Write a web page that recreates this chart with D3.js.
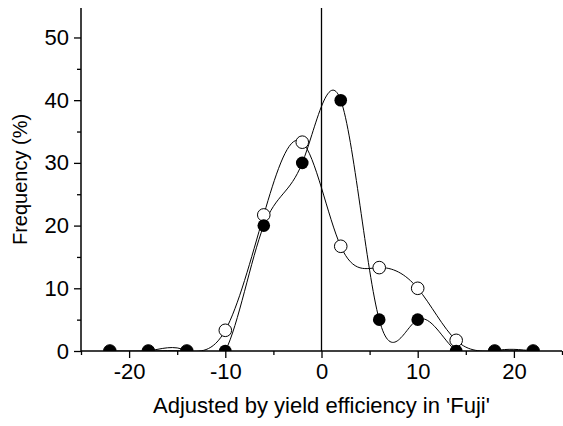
<!DOCTYPE html>
<html lang="en">
<head>
<meta charset="UTF-8">
<title>Frequency distribution</title>
<script src="https://cdn.jsdelivr.net/npm/d3@7"></script>
<style>
  body { margin: 0; background: #fff; }
  text { font-family: "Liberation Sans", Arial, sans-serif; fill: #000; }
</style>
</head>
<body>
<svg id="chart" width="563" height="426"></svg>
<script>
// data
const xVals      = [-22, -18, -14, -10, -6, -2, 2, 6, 10, 14, 18, 22];
const filledVals = [0, 0, 0, 0, 20, 30, 40, 5, 5, 0, 0, 0];
const openVals   = [0, 0, 0, 3.3, 21.7, 33.3, 16.7, 13.3, 10, 1.7, 0, 0];
const xTicks = [-20, -10, 0, 10, 20];
const yTicks = [0, 10, 20, 30, 40, 50];

const w = 563, h = 426;
const padL = 81, padR = 562, padT = 8, padB = 351;

const svg = d3.select("#chart");

const x = d3.scaleLinear().domain([-25, 25]).range([padL, padR]);
const y = d3.scaleLinear().domain([0, 54.7]).range([padB, padT]);

svg.append("defs").append("clipPath").attr("id", "plotclip")
  .append("rect")
    .attr("x", padL).attr("y", padT)
    .attr("width", padR - padL).attr("height", padB - padT);

// minor ticks
svg.append("g")
    .attr("transform", "translate(0," + padB + ")")
    .call(d3.axisBottom(x).tickValues(d3.range(-25, 26, 5).filter(d => d % 10 != 0)).tickSize(4).tickFormat(""))
    .call(g => g.select(".domain").remove())
    .selectAll("line").attr("stroke-width", 1.3);
svg.append("g")
    .attr("transform", "translate(" + padL + ",0)")
    .call(d3.axisLeft(y).tickValues([5, 15, 25, 35, 45]).tickSize(4).tickFormat(""))
    .call(g => g.select(".domain").remove())
    .selectAll("line").attr("stroke-width", 1.3);

// major axes
const xAxis = svg.append("g")
    .attr("transform", "translate(0," + padB + ")")
    .call(d3.axisBottom(x).tickValues(xTicks).tickSize(7).tickPadding(5).tickSizeOuter(0).tickFormat(d => String(d)));
const yAxis = svg.append("g")
    .attr("transform", "translate(" + padL + ",0)")
    .call(d3.axisLeft(y).tickValues(yTicks).tickSize(7).tickPadding(5).tickSizeOuter(0).tickFormat(d => String(d)));

[xAxis, yAxis].forEach(g => {
  g.select(".domain").attr("stroke-width", 1.5);
  g.selectAll(".tick line").attr("stroke-width", 1.3);
  g.selectAll(".tick text")
    .style("font-size", "22px")
    .style("font-family", "'Liberation Sans', Arial, sans-serif")
    .attr("fill", "#000");
});
xAxis.select(".domain").attr("d", "M" + padL + ",0H" + padR);
yAxis.select(".domain").attr("d", "M0," + padT + "V" + padB);

// zero line
svg.append("line")
    .attr("x1", x(0)).attr("x2", x(0))
    .attr("y1", padT).attr("y2", padB)
    .attr("stroke", "#000").attr("stroke-width", 1.3);

const line = d3.line()
    .curve(d3.curveNatural)
    .x(d => x(d[0]))
    .y(d => y(d[1]));

const openPts = xVals.map((v, i) => [v, openVals[i]]);
const filledPts = xVals.map((v, i) => [v, filledVals[i]]);

const plot = svg.append("g").attr("clip-path", "url(#plotclip)");

plot.append("path").datum(openPts)
    .attr("d", line).attr("fill", "none").attr("stroke", "#000").attr("stroke-width", 1);
plot.append("path").datum(filledPts)
    .attr("d", line).attr("fill", "none").attr("stroke", "#000").attr("stroke-width", 1);

plot.append("g").selectAll("circle")
    .data(openPts)
    .enter().append("circle")
    .attr("cx", d => x(d[0])).attr("cy", d => y(d[1]))
    .attr("r", 6.3).attr("fill", "#fff").attr("stroke", "#000").attr("stroke-width", 1);

plot.append("g").selectAll("circle")
    .data(filledPts)
    .enter().append("circle")
    .attr("cx", d => x(d[0])).attr("cy", d => y(d[1]))
    .attr("r", 6.3).attr("fill", "#000");

// axis titles
svg.append("text")
    .attr("x", x(0)).attr("y", 412.5)
    .attr("text-anchor", "middle")
    .style("font-size", "22px")
    .text("Adjusted by yield efficiency in 'Fuji'");

svg.append("text")
    .attr("transform", "translate(27,179.5) rotate(-90)")
    .attr("text-anchor", "middle")
    .style("font-size", "20px")
    .text("Frequency (%)");
</script>
</body>
</html>
